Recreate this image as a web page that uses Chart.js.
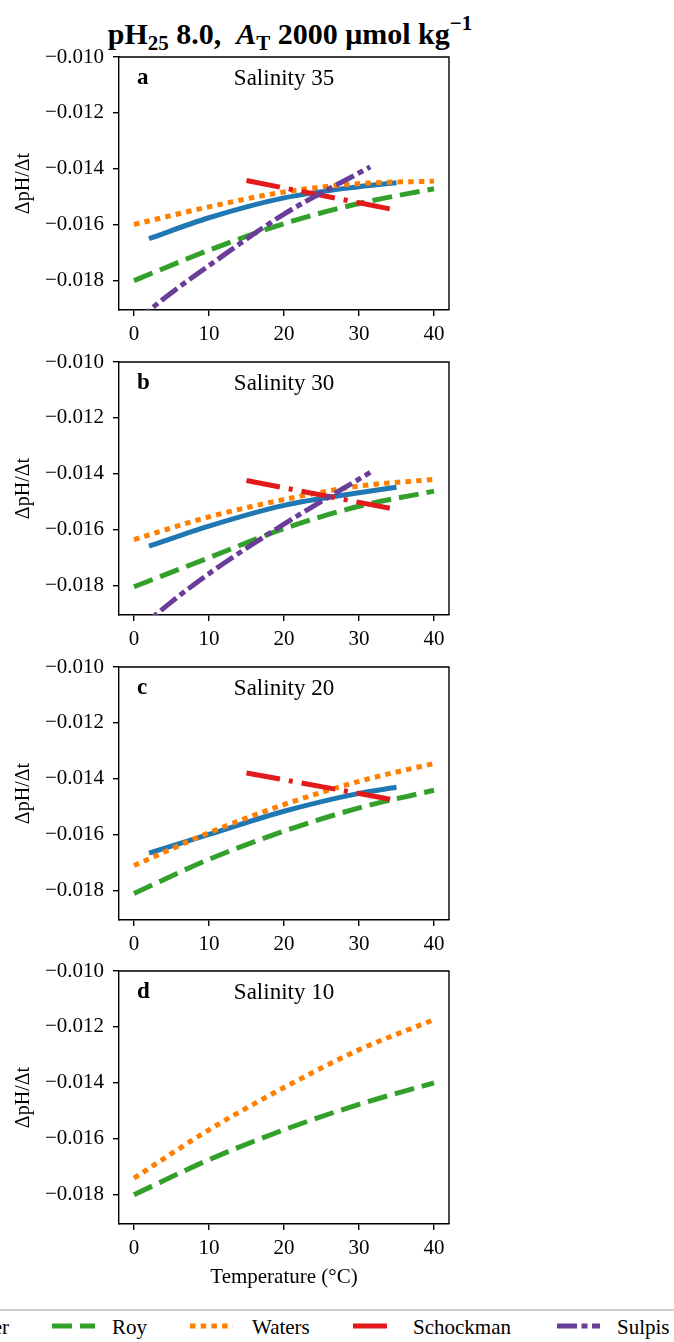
<!DOCTYPE html>
<html>
<head>
<meta charset="utf-8">
<script src="https://cdn.jsdelivr.net/npm/chart.js@4.4.1/dist/chart.umd.min.js"></script>
<style>
  html, body { margin: 0; padding: 0; background: #fff; }
  #fig { position: relative; width: 674px; height: 1342px; overflow: hidden;
         font-family: "Liberation Serif", "Times New Roman", serif; color: #000; }
  #fig canvas { position: absolute; left: 0; }
  .title { position: absolute; left: 0; width: 580px; top: 19px; text-align: center;
           font-weight: bold; font-size: 30px; line-height: 30px; white-space: nowrap; }
  .sub { font-size: 0.7em; position: relative; top: 0.28em; }
  .sup { font-size: 0.7em; position: relative; top: -0.65em; }
  .legend-frame { position: absolute; left: 0; right: 0; top: 1309px; height: 1.5px; background: #cccccc; }
  .leg-text { position: absolute; top: 1316.5px; font-size: 21px; line-height: 21px; white-space: nowrap; }
  .leg-handle { position: absolute; top: 1320.5px; }
</style>
</head>
<body>
<div id="fig">
  <div class="title">pH<span class="sub">25</span> 8.0,&nbsp; <i>A</i><span class="sub">T</span> 2000 μmol kg<span class="sup">−1</span></div>
  <div class="legend-frame"></div>
</div>
<script>
// temperatures (°C)
const temps = [0, 10, 20, 30, 40];
const tempsLueker = [2, 10, 20, 30, 35];
const tempsSchockman = [15, 35];
const tempsSulpis = [0, 5, 10, 20, 31.5];

const salinities = [35, 30, 20, 10];
const panelLetters = ["a", "b", "c", "d"];
const xTicks = [0, 10, 20, 30, 40];
const yTicks = [-0.018, -0.016, -0.014, -0.012, -0.010];

// a: salinity 35
const luekerS35 = [-0.01650, -0.01575, -0.01504, -0.01464, -0.01450];
const royS35 = [-0.01800, -0.01691, -0.01596, -0.01524, -0.01471];
const watersS35 = [-0.01599, -0.01536, -0.01483, -0.01453, -0.01444];
const schockmanS35 = [-0.01442, -0.01548];
const sulpisS35 = [-0.01950, -0.01843, -0.01746, -0.01562, -0.01393];

// b: salinity 30
const luekerS30 = [-0.01659, -0.01587, -0.01513, -0.01468, -0.01448];
const royS30 = [-0.01804, -0.01700, -0.01596, -0.01516, -0.01462];
const watersS30 = [-0.01635, -0.01554, -0.01492, -0.01444, -0.01420];
const schockmanS30 = [-0.01424, -0.01528];
const sulpisS30 = [-0.01970, -0.01858, -0.01757, -0.01580, -0.01395];

// c: salinity 20
const luekerS20 = [-0.01666, -0.01599, -0.01516, -0.01452, -0.01430];
const royS20 = [-0.01810, -0.01688, -0.01587, -0.01504, -0.01441];
const watersS20 = [-0.01710, -0.01593, -0.01492, -0.01409, -0.01345];
const schockmanS20 = [-0.01379, -0.01477];

// d: salinity 10
const royS10 = [-0.01800, -0.01675, -0.01568, -0.01477, -0.01400];
const watersS10 = [-0.01741, -0.01568, -0.01417, -0.01282, -0.01174];

const seriesNames = ["Lueker", "Roy", "Waters", "Schockman", "Sulpis"];
const seriesColors = ["#1f78b4", "#33a02c", "#ff7f00", "#e31a1c", "#6a3d9a"];
const seriesDashes = [[], [20, 8], [5.5, 5.2], [34, 9, 4, 9], [20, 4.5, 6, 4.5]];
const seriesTemps = [tempsLueker, temps, temps, tempsSchockman, tempsSulpis];

const panelSeries = [
  [luekerS35, royS35, watersS35, schockmanS35, sulpisS35],
  [luekerS30, royS30, watersS30, schockmanS30, sulpisS30],
  [luekerS20, royS20, watersS20, schockmanS20, null],
  [null, royS10, watersS10, null, null],
];

const panelTops = [57, 362, 667, 971];
const panelH = 253;
const padTop = 22;
const FONT = "'Liberation Serif', 'Times New Roman', serif";

const panelDecor = {
  id: "panelDecor",
  afterDraw(chart, args, opts) {
    const { ctx, chartArea: a } = chart;
    ctx.save();
    ctx.strokeStyle = "#000";
    ctx.lineWidth = 1.4;
    ctx.beginPath();
    ctx.moveTo(a.left, a.top);
    ctx.lineTo(a.right, a.top);
    ctx.lineTo(a.right, a.bottom);
    ctx.stroke();
    ctx.fillStyle = "#000";
    ctx.textBaseline = "alphabetic";
    ctx.font = "bold 23px " + FONT;
    ctx.textAlign = "left";
    ctx.fillText(opts.letter, a.left + 18, a.top + 27);
    ctx.font = "23px " + FONT;
    ctx.textAlign = "center";
    ctx.fillText("Salinity " + opts.salinity, (a.left + a.right) / 2, a.top + 28);
    ctx.restore();
  },
};

const fig = document.getElementById("fig");

panelSeries.forEach((series, i) => {
  const last = i === panelSeries.length - 1;
  const xH = last ? 66 : 38;
  const canvas = document.createElement("canvas");
  canvas.width = 674;
  canvas.height = padTop + panelH + xH;
  canvas.style.top = panelTops[i] - padTop + "px";
  fig.appendChild(canvas);

  const datasets = [];
  series.forEach((vals, k) => {
    if (!vals) return;
    datasets.push({
      label: seriesNames[k],
      data: vals.map((v, j) => ({ x: seriesTemps[k][j], y: v })),
      borderColor: seriesColors[k],
      borderDash: seriesDashes[k],
      borderWidth: 5,
      cubicInterpolationMode: "monotone",
      pointRadius: 0,
      fill: false,
      clip: 0,
      order: 5 - k,
    });
  });

  new Chart(canvas, {
    type: "line",
    data: { datasets },
    plugins: [panelDecor],
    options: {
      responsive: false,
      animation: false,
      layout: { padding: { top: padTop, right: 225, left: 0, bottom: 0 } },
      plugins: {
        legend: { display: false },
        tooltip: { enabled: false },
        panelDecor: { letter: panelLetters[i], salinity: salinities[i] },
      },
      scales: {
        x: {
          type: "linear",
          min: -2,
          max: 42,
          afterBuildTicks: (s) => { s.ticks = xTicks.map((v) => ({ value: v })); },
          afterFit: (s) => { s.height = xH; },
          ticks: { color: "#000", font: { family: FONT, size: 21 }, padding: 6, maxRotation: 0,
                   callback: (v) => String(v) },
          grid: { drawOnChartArea: false, tickLength: 6, color: "#000", lineWidth: 1.4 },
          border: { color: "#000", width: 1.4 },
          title: { display: last, text: "Temperature (°C)", color: "#000",
                   font: { family: FONT, size: 21 }, padding: { top: 0, bottom: 0 } },
        },
        y: {
          min: -0.01905,
          max: -0.010,
          afterBuildTicks: (s) => { s.ticks = yTicks.map((v) => ({ value: v })); },
          afterFit: (s) => { s.width = 119; },
          ticks: { color: "#000", font: { family: FONT, size: 21 }, padding: 9,
                   callback: (v) => "\u2212" + Math.abs(v).toFixed(3) },
          grid: { drawOnChartArea: false, tickLength: 6, color: "#000", lineWidth: 1.4 },
          border: { color: "#000", width: 1.4 },
          title: { display: true, text: "ΔpH/Δt", color: "#000",
                   font: { family: FONT, size: 20 }, padding: { top: 12, bottom: 0 } },
        },
      },
    },
  });
});

// figure legend along the bottom (partly cut off at the left, as in the source)
const legHandleX = [-110, 52, 190, 353, 557];
const legTextX = [-50.5, 112, 252, 413, 617];
seriesNames.forEach((name, k) => {
  const svgNS = "http://www.w3.org/2000/svg";
  const svg = document.createElementNS(svgNS, "svg");
  svg.setAttribute("width", "43");
  svg.setAttribute("height", "10");
  svg.setAttribute("class", "leg-handle");
  svg.style.left = legHandleX[k] + "px";
  const line = document.createElementNS(svgNS, "line");
  line.setAttribute("x1", "0");
  line.setAttribute("y1", "5");
  line.setAttribute("x2", "43");
  line.setAttribute("y2", "5");
  line.setAttribute("stroke", seriesColors[k]);
  line.setAttribute("stroke-width", "5");
  if (seriesDashes[k].length) line.setAttribute("stroke-dasharray", seriesDashes[k].join(" "));
  svg.appendChild(line);
  fig.appendChild(svg);

  const t = document.createElement("div");
  t.className = "leg-text";
  t.style.left = legTextX[k] + "px";
  t.textContent = name;
  fig.appendChild(t);
});
</script>
</body>
</html>
